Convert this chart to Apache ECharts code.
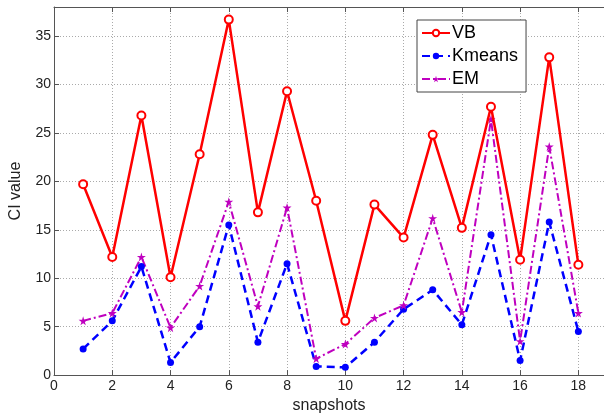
<!DOCTYPE html>
<html>
<head>
<meta charset="utf-8">
<script src="https://cdn.jsdelivr.net/npm/echarts@6/dist/echarts.min.js"></script>
<style>
  html, body { margin: 0; padding: 0; background: #fff; }
  #chart { width: 604px; height: 419px; }
</style>
</head>
<body>
<div id="chart"></div>
<script>
// snapshot index 1..18
const snapshots = [1, 2, 3, 4, 5, 6, 7, 8, 9, 10, 11, 12, 13, 14, 15, 16, 17, 18];
const vbValues = [19.7, 12.2, 26.8, 10.1, 22.8, 36.7, 16.8, 29.3, 18.0, 5.6, 17.6, 14.2, 24.8, 15.2, 27.7, 11.9, 32.8, 11.4];
const kmeansValues = [2.7, 5.6, 11.2, 1.3, 5.0, 15.5, 3.4, 11.5, 0.9, 0.8, 3.4, 6.8, 8.8, 5.2, 14.5, 1.5, 15.8, 4.5];
const emValues = [5.6, 6.4, 12.2, 4.9, 9.2, 17.9, 7.1, 17.3, 1.7, 3.2, 5.9, 7.2, 16.2, 6.5, 26.4, 3.5, 23.6, 6.4];

const font = 'Liberation Sans, Arial, sans-serif';
const star = 'path://M50,0 L61,35 L98,35 L68,57 L79,91 L50,70 L21,91 L32,57 L2,35 L39,35 Z';

function pairs(vals) {
    return snapshots.map((x, i) => [x, vals[i]]);
}

const chart = echarts.init(document.getElementById('chart'));

const axisLine = { show: true, lineStyle: { color: '#555', width: 1 } };
const gridLine = { show: true, lineStyle: { color: '#aaa', type: [1, 2], width: 1 } };
const tick = { show: true, inside: true, length: 5, lineStyle: { color: '#555' } };

// the original figure is cropped on the right, x runs a bit past 18
const xMax = 18.88;

chart.setOption({
    animation: false,
    grid: { left: 48, right: 0, top: 7, bottom: 42 },
    legend: {
        orient: 'vertical',
        left: 417,
        top: 20,
        padding: [4, 8, 4, 4],
        itemGap: 5,
        itemWidth: 28,
        itemHeight: 8,
        backgroundColor: '#fff',
        borderColor: '#444',
        borderWidth: 1,
        borderRadius: 0,
        textStyle: { fontFamily: font, fontSize: 18, color: '#000', padding: [0, 0, 0, -3] },
        data: ['VB', 'Kmeans', 'EM']
    },
    xAxis: [{
        type: 'value',
        min: 0,
        max: xMax,
        interval: 2,
        name: 'snapshots',
        nameLocation: 'middle',
        nameGap: 21,
        nameTextStyle: { fontFamily: font, fontSize: 16, color: '#222' },
        axisLine: axisLine,
        axisTick: tick,
        axisLabel: { fontFamily: font, fontSize: 14, color: '#222', margin: 4, showMaxLabel: false },
        splitLine: gridLine
    }, {
        type: 'value',
        position: 'top',
        min: 0,
        max: xMax,
        interval: 2,
        axisLine: axisLine,
        axisTick: tick,
        axisLabel: { show: false },
        splitLine: { show: false }
    }],
    yAxis: {
        type: 'value',
        min: 0,
        max: 38,
        interval: 5,
        name: 'CI value',
        nameLocation: 'middle',
        nameGap: 30,
        nameTextStyle: { fontFamily: font, fontSize: 16, color: '#222' },
        axisLine: axisLine,
        axisTick: tick,
        axisLabel: { fontFamily: font, fontSize: 14, color: '#222', margin: 3, showMaxLabel: false },
        splitLine: gridLine
    },
    series: [{
        name: 'VB',
        type: 'line',
        data: pairs(vbValues),
        symbol: 'emptyCircle',
        symbolSize: 8,
        color: '#ff0000',
        lineStyle: { width: 2.5, color: '#ff0000' },
        itemStyle: { color: '#ff0000', borderWidth: 2 },
        z: 3
    }, {
        name: 'Kmeans',
        type: 'line',
        data: pairs(kmeansValues),
        symbol: 'circle',
        symbolSize: 7,
        color: '#0000ff',
        lineStyle: { width: 2.5, color: '#0000ff', type: [8, 5] },
        itemStyle: { color: '#0000ff' },
        z: 2
    }, {
        name: 'EM',
        type: 'line',
        data: pairs(emValues),
        symbol: star,
        symbolSize: 9,
        color: '#bf00bf',
        lineStyle: { width: 2, color: '#bf00bf', type: [8, 3, 2, 3] },
        itemStyle: { color: '#bf00bf' },
        z: 2
    }]
});
</script>
</body>
</html>
